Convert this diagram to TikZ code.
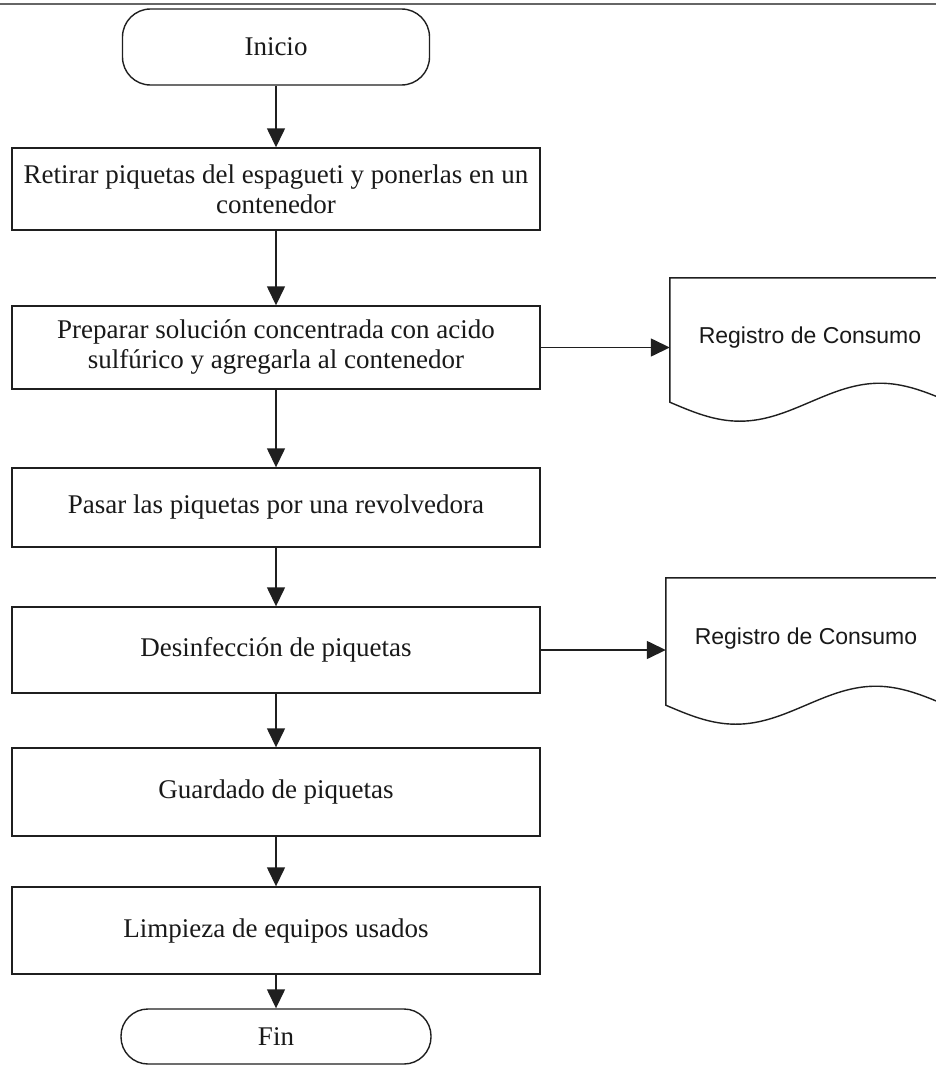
\documentclass[tikz,border=0pt]{standalone}
\usepackage{fontspec}
\setmainfont{Liberation Serif}
\newfontfamily\docfont{Liberation Sans}
\usetikzlibrary{arrows.meta,calc}
\begin{document}
\begin{tikzpicture}[x=1pt,y=-1pt,
  ln/.style={draw=black!88, line width=1.4pt},
  proc/.style={ln, rectangle, minimum width=528pt, align=center, inner sep=0pt,
    font=\fontsize{27}{30}\selectfont, text=black!90},
  term/.style={ln, rectangle, rounded corners=28pt, align=center, inner sep=0pt,
    font=\fontsize{27}{30}\selectfont, text=black!90},
  docbox/.style={rectangle, minimum width=280pt, minimum height=124pt, inner sep=0pt,
    font=\docfont\fontsize{23}{26}\selectfont, text height=14pt, text depth=8pt, text=black!90},
  arr/.style={ln, -{Triangle[length=19pt,width=18pt]}}
]
\useasboundingbox (0,0) rectangle (936,1065);
\clip (0,0) rectangle (936,1065);
\fill[white] (0,0) rectangle (936,1065);
\draw[line width=2.5pt, black!60] (0,4) -- (936,4);

\node[term, minimum width=307pt, minimum height=76pt] (ini) at (276,47) {Inicio};
\node[proc, minimum height=82pt] (b1) at (276,189) {Retirar piquetas del espagueti y ponerlas en un\\contenedor};
\node[proc, minimum height=83pt] (b2) at (276,347.5) {Preparar solución concentrada con acido\\sulfúrico y agregarla al contenedor};
\node[proc, minimum height=79pt] (b3) at (276,507.5) {Pasar las piquetas por una revolvedora};
\node[proc, minimum height=86pt] (b4) at (276,650) {Desinfección de piquetas};
\node[proc, minimum height=88pt] (b5) at (276,792) {Guardado de piquetas};
\node[proc, minimum height=87pt] (b6) at (276,930.5) {Limpieza de equipos usados};
\node[term, minimum width=310pt, minimum height=55pt, rounded corners=27pt] (fin) at (276,1036.5) {Fin};

\node[docbox] (d1) at (810,340) {Registro de Consumo};
\node[docbox, minimum height=127pt] (d2) at (806,641.5) {Registro de Consumo};

\foreach \d in {d1,d2}{
  \draw[ln] (\d.north east) -- (\d.north west) -- (\d.south west)
    sin ($(\d.south west)+(70,19)$) cos ($(\d.south west)+(140,0)$)
    sin ($(\d.south west)+(210,-19)$) cos (\d.south east) -- (\d.north east);
}

\draw[arr] (ini) -- (b1);
\draw[arr] (b1) -- (b2);
\draw[arr] (b2) -- (b3);
\draw[arr] (b3) -- (b4);
\draw[arr] (b4) -- (b5);
\draw[arr] (b5) -- (b6);
\draw[arr] (b6) -- (fin);
\draw[arr] (b2.east) -- (b2.east -| d1.west);
\draw[arr] (b4.east) -- (b4.east -| d2.west);
\end{tikzpicture}
\end{document}
